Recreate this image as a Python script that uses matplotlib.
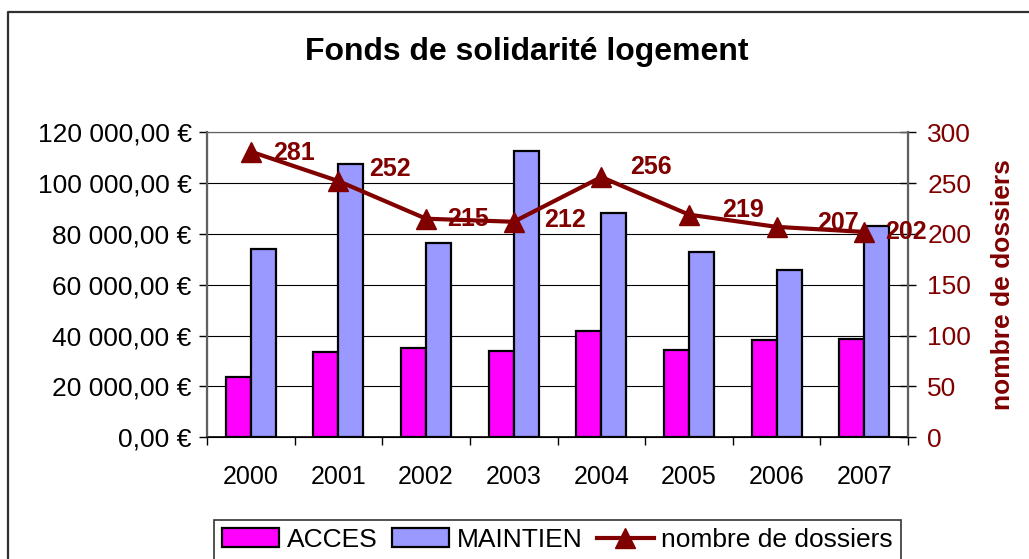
import matplotlib
matplotlib.use("Agg")
import matplotlib.pyplot as plt
import matplotlib.ticker as mticker
from matplotlib.lines import Line2D
import numpy as np

plt.rcParams['font.family'] = ['Liberation Sans', 'DejaVu Sans']

# données
annees = ['2000', '2001', '2002', '2003', '2004', '2005', '2006', '2007']
acces = [23600, 33700, 35000, 34000, 41800, 34300, 38200, 38600]
maintien = [74000, 107600, 76300, 112500, 88400, 72800, 65800, 83100]
dossiers = [281, 252, 215, 212, 256, 219, 207, 202]

# décalage des étiquettes (points) comme dans l'original
label_dx = [16, 22, 15, 22, 21, 24, 29, 15]
label_dy = [-1, 9, 0, 1, 7, 3, 3, 0]

DARK_RED = '#800000'
x = np.arange(len(annees))
bw = 0.285

fig = plt.figure(figsize=(10.29, 5.59), dpi=100)
ax = fig.add_axes([207 / 1029, 1 - 437.3 / 559, 701 / 1029, 305 / 559])
ax2 = ax.twinx()

ax.bar(x - bw / 2, acces, width=bw, color='#FF00FF', edgecolor='black',
       linewidth=1.6, zorder=3, label='ACCES')
ax.bar(x + bw / 2, maintien, width=bw, color='#9999FF', edgecolor='black',
       linewidth=1.6, zorder=3, label='MAINTIEN')

ax.set_ylim(0, 120000)
ax.set_xlim(-0.5, len(annees) - 0.5)
ax.yaxis.set_major_locator(mticker.MultipleLocator(20000))
ax.yaxis.set_major_formatter(mticker.FuncFormatter(
    lambda v, p: f"{v:,.2f}".replace(",", " ").replace(".", ",") + " €"))
ax.grid(axis='y', color='black', linewidth=0.8, zorder=0)
ax.set_axisbelow(True)

ax.set_xticks(x)
ax.set_xticklabels(annees)
ax.set_xticks(np.arange(-0.5, len(annees), 1.0), minor=True)
ax.tick_params(axis='x', which='major', length=0, pad=20, labelsize=18)
ax.tick_params(axis='x', which='minor', length=6, width=1, direction='out')
ax.tick_params(axis='y', length=6, width=1, direction='out', pad=5, labelsize=19)

for s in ['left', 'right', 'top']:
    ax.spines[s].set_color('#606060')
    ax2.spines[s].set_color('#606060')
ax.spines['left'].set_linewidth(1.6)
ax2.spines['right'].set_linewidth(1.6)
ax.spines['bottom'].set_color('black')
ax.spines['bottom'].set_linewidth(1.2)

ax2.plot(x, dossiers, color=DARK_RED, linewidth=3, marker='^',
         markersize=14, zorder=5, label='nombre de dossiers')
ax2.set_ylim(0, 300)
ax2.yaxis.set_major_locator(mticker.MultipleLocator(50))
ax2.tick_params(axis='y', length=12, width=1, direction='inout', pad=8,
                labelsize=19, labelcolor=DARK_RED)
ax2.set_ylabel('nombre de dossiers', color=DARK_RED, fontsize=19,
               fontweight='bold', labelpad=14)

for xi, v, dx, dy in zip(x, dossiers, label_dx, label_dy):
    ax2.annotate(str(v), (xi, v), xytext=(dx, dy), textcoords='offset points',
                 ha='left', va='center', color=DARK_RED, fontsize=18,
                 fontweight='bold', zorder=6)

fig.text(526.5 / 1029, 1 - 52 / 559, 'Fonds de solidarité logement',
         ha='center', va='center', fontsize=23, fontweight='bold')

# légende
h1, l1 = ax.get_legend_handles_labels()
h2, l2 = ax2.get_legend_handles_labels()
leg = fig.legend(h1 + h2, l1 + l2, loc='upper center',
                 bbox_to_anchor=(557.5 / 1029, 1 - 520 / 559), ncol=3,
                 fontsize=19, frameon=True, fancybox=False, edgecolor='black',
                 handlelength=2.15, handleheight=0.7, handletextpad=0.3,
                 columnspacing=0.55, borderpad=0.3, borderaxespad=0)
leg.get_frame().set_linewidth(1.2)

# cadre du graphique
fig.add_artist(Line2D([8 / 1029, 8 / 1029, 1.0], [0, 1 - 12 / 559, 1 - 12 / 559],
                      transform=fig.transFigure, color='#303030', linewidth=1.6))

fig.savefig('out.png', dpi=100)
